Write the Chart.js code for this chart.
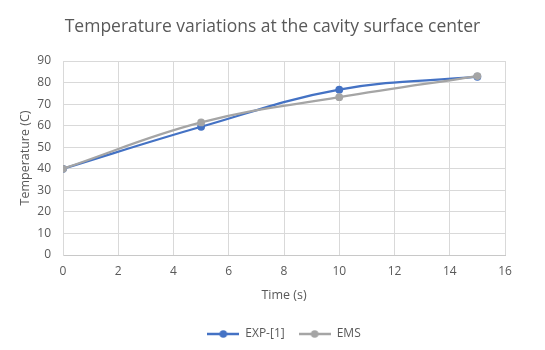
<!DOCTYPE html>
<html lang="en">
<head>
  <meta charset="UTF-8">
  <title>Temperature variations at the cavity surface center</title>
  <script src="https://cdn.jsdelivr.net/npm/chart.js"></script>
  <style>
    html, body { margin: 0; padding: 0; background: #fff; }
    #wrap { width: 545px; height: 350px; }
  </style>
</head>
<body>
  <div id="wrap"><canvas id="tempChart"></canvas></div>

  <script>
    // data
    const timeS = [0, 5, 10, 15];
    const expValues = [40, 59.5, 76.7, 82.7];
    const emsValues = [40, 61.5, 73.2, 83];
    const seriesNames = ['EXP-[1]', 'EMS'];
    const seriesColors = ['#4472C4', '#A5A5A5'];

    const FONT = "'Open Sans', sans-serif";
    const TEXT = '#595959';

    function points(vals) {
      return timeS.map((t, i) => ({ x: t, y: vals[i] }));
    }

    // Excel-like legend marker: short line with a dot in the middle
    function legendMarker(color) {
      const c = document.createElement('canvas');
      c.width = 32; c.height = 10;
      const g = c.getContext('2d');
      g.strokeStyle = color;
      g.lineWidth = 2.5;
      g.beginPath(); g.moveTo(0, 5); g.lineTo(32, 5); g.stroke();
      g.fillStyle = color;
      g.beginPath(); g.arc(16, 5, 3.8, 0, Math.PI * 2); g.fill();
      return c;
    }

    const ctx = document.getElementById('tempChart').getContext('2d');
    const chart = new Chart(ctx, {
      type: 'line',
      data: {
        datasets: [
          { label: seriesNames[0], data: points(expValues), order: 1 },
          { label: seriesNames[1], data: points(emsValues), order: 0 }
        ].map((d, i) => Object.assign(d, {
          borderColor: seriesColors[i],
          backgroundColor: seriesColors[i],
          borderWidth: 2.25,
          pointRadius: 3.9,
          pointBorderWidth: 0,
          pointHoverRadius: 4,
          tension: 0.4,
          fill: false
        }))
      },
      options: {
        responsive: true,
        maintainAspectRatio: false,
        animation: false,
        layout: { padding: { left: 18, right: 18, top: 0, bottom: 0 } },
        plugins: {
          title: {
            display: true,
            text: 'Temperature variations at the cavity surface center',
            color: TEXT,
            font: { family: FONT, size: 17.5, weight: 'normal' },
            padding: { top: 17, bottom: 23 }
          },
          legend: {
            position: 'bottom',
            fullSize: false,
            labels: {
              color: TEXT,
              font: { family: FONT, size: 12 },
              usePointStyle: true,
              pointStyleWidth: 32,
              padding: 14,
              generateLabels: (ch) => ch.data.datasets.map((d, i) => ({
                text: d.label,
                fontColor: TEXT,
                pointStyle: legendMarker(seriesColors[i]),
                strokeStyle: seriesColors[i],
                fillStyle: seriesColors[i],
                lineWidth: 0,
                datasetIndex: i,
                hidden: false
              }))
            }
          },
          tooltip: { enabled: false }
        },
        scales: {
          x: {
            type: 'linear',
            min: 0,
            max: 16,
            ticks: { stepSize: 2, color: TEXT, font: { family: FONT, size: 12 }, padding: 9 },
            grid: { color: '#d9d9d9', drawTicks: false },
            border: { color: '#c8c8c8' },
            title: {
              display: true,
              text: 'Time (s)',
              color: TEXT,
              font: { family: FONT, size: 12.5 },
              padding: { top: 0, bottom: 11 }
            },
            afterFit: (s) => { s.height = 59; s.paddingRight = 40; }
          },
          y: {
            min: 0,
            max: 90,
            ticks: { stepSize: 10, color: TEXT, font: { family: FONT, size: 12 }, padding: 12 },
            grid: { color: '#d9d9d9', drawTicks: false },
            border: { color: '#d9d9d9' },
            title: {
              display: true,
              text: 'Temperature (C)',
              color: TEXT,
              font: { family: FONT, size: 12.5 },
              padding: { top: 0, bottom: 0 }
            },
            afterFit: (s) => { s.width = 45; }
          }
        }
      }
    });
  </script>
</body>
</html>
